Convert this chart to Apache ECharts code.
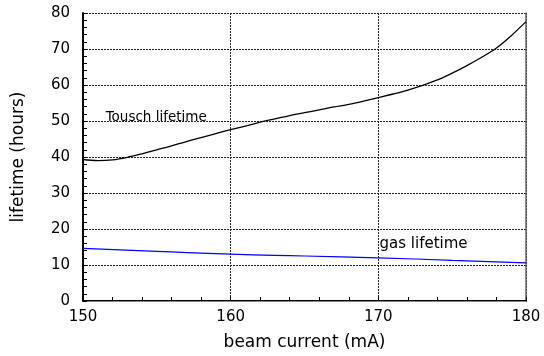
<!DOCTYPE html>
<html><head><meta charset="utf-8">
<script src="https://cdn.jsdelivr.net/npm/echarts@6/dist/echarts.min.js"></script>
<style>html,body{margin:0;padding:0;background:#fff}#c{width:544px;height:356px}</style>
</head><body><div id="c"></div>
<script>
var currents = [150,151,152,153,154,155,156,157,158,159,160,161,162,163,164,165,166,167,168,169,170,171,172,173,174,175,176,177,178,179,180];
var touschLifetime = [39.3,39.0,39.2,39.9,40.9,42.0,43.1,44.3,45.4,46.5,47.6,48.6,49.7,50.6,51.5,52.3,53.1,53.9,54.6,55.5,56.5,57.5,58.6,59.9,61.4,63.3,65.4,67.7,70.3,73.7,77.6];
var gasCurrents = [150,155,160,165,170,175,180];
var gasLifetime = [14.6,13.8,13.0,12.5,12.0,11.3,10.6];
var xTicks = [150,160,170,180];
var yTicks = [0,10,20,30,40,50,60,70,80];
var labels = {tousch: 'Tousch lifetime', gas: 'gas lifetime'};
var labelAnchors = {tousch: [151.5, 50.9], gas: [170.05, 15.7]};

var font = 'DejaVu Sans';
var chart = echarts.init(document.getElementById('c'), null, {renderer:'canvas'});
var gridLine = {show:true, lineStyle:{color:'#222', width:1, type:[2,1]}};
function textSeries(key, size) {
  return {
    type:'scatter', symbol:'circle', symbolSize:1, silent:true,
    itemStyle:{color:'#fff', opacity:0},
    data:[labelAnchors[key]],
    label:{show:true, formatter:labels[key], position:'right', distance:0,
      fontFamily:font, fontSize:size, color:'#000', opacity:1,
      textBorderWidth:0}
  };
}
chart.setOption({
  animation:false,
  backgroundColor:'#fff',
  grid:{left:83, right:18, top:13, bottom:52, containLabel:false},
  xAxis:[{
    type:'value', min:xTicks[0], max:xTicks[xTicks.length-1], interval:10,
    name:'beam current (mA)', nameLocation:'middle', nameGap:33,
    nameTextStyle:{fontFamily:font, fontSize:17, color:'#000'},
    axisLine:{show:true, lineStyle:{color:'#000', width:2}},
    axisTick:{show:true, inside:true, length:4, lineStyle:{color:'#000'}},
    minorTick:{show:true, splitNumber:5, length:4, lineStyle:{color:'#000'}},
    axisLabel:{fontFamily:font, fontSize:15, color:'#000', margin:9},
    splitLine:gridLine
  },{
    type:'value', position:'top', min:150, max:180, interval:10,
    axisLine:{show:true, lineStyle:{color:'#888', width:1}},
    axisTick:{show:false}, axisLabel:{show:false}, splitLine:{show:false}
  }],
  yAxis:[{
    type:'value', min:yTicks[0], max:yTicks[yTicks.length-1], interval:10,
    name:'lifetime (hours)', nameLocation:'middle', nameGap:56, nameRotate:90,
    nameTextStyle:{fontFamily:font, fontSize:17, color:'#000'},
    axisLine:{show:true, lineStyle:{color:'#000', width:2}},
    axisTick:{show:true, inside:true, length:4, lineStyle:{color:'#000'}},
    minorTick:{show:true, splitNumber:5, length:4, lineStyle:{color:'#000'}},
    axisLabel:{fontFamily:font, fontSize:15, color:'#000', margin:13},
    splitLine:gridLine
  },{
    type:'value', position:'right', min:0, max:80, interval:10,
    axisLine:{show:true, lineStyle:{color:'#666', width:1.5}},
    axisTick:{show:false}, axisLabel:{show:false}, splitLine:{show:false}
  }],
  series:[{
    name:labels.tousch, type:'line', smooth:0.35, symbol:'none',
    data:currents.map(function(x,i){return [x,touschLifetime[i]];}),
    lineStyle:{color:'#000', width:1.3}
  },{
    name:labels.gas, type:'line', smooth:true, symbol:'none',
    data:gasCurrents.map(function(x,i){return [x,gasLifetime[i]];}),
    lineStyle:{color:'#0000ff', width:1.2}
  }, textSeries('tousch', 13.5), textSeries('gas', 15)]
});
</script></body></html>
